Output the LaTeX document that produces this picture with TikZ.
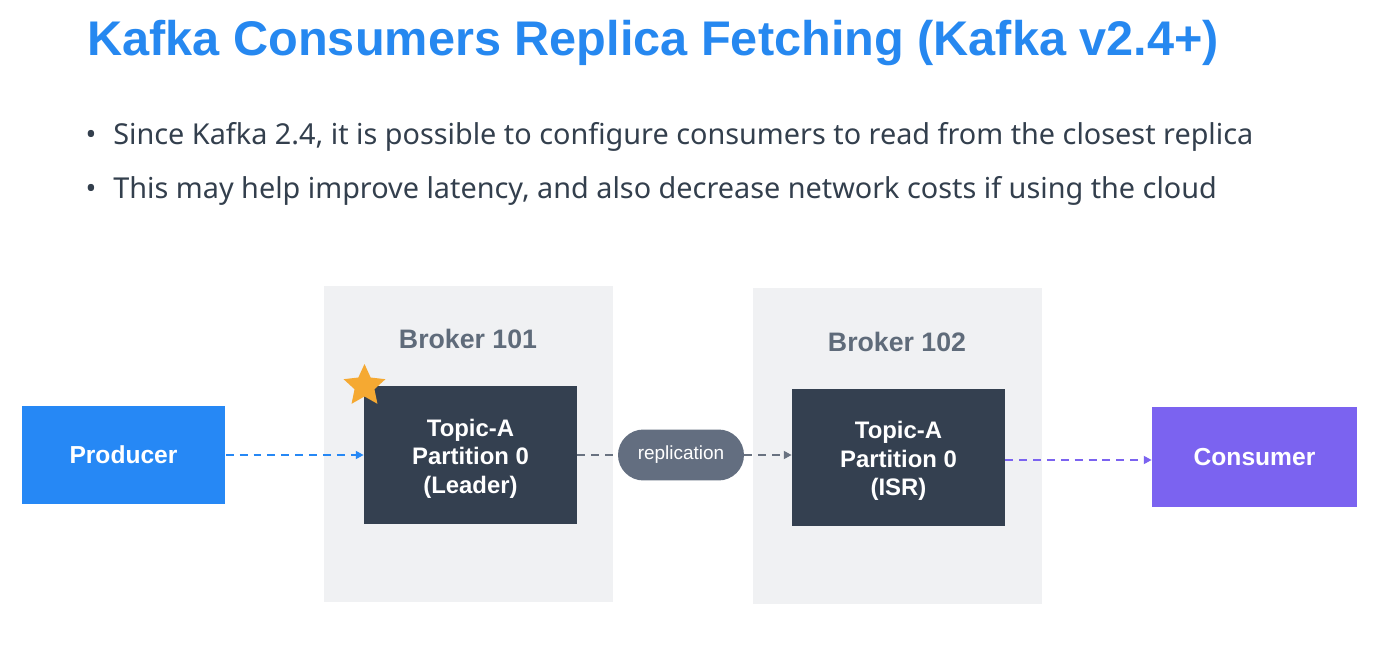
\documentclass[tikz,border=0pt]{standalone}
\usepackage{fontspec}
\setmainfont{Noto Sans}
\newfontfamily\headfont{Liberation Sans}
\usetikzlibrary{shapes.geometric,arrows.meta}

\definecolor{titleblue}{RGB}{38,136,240}
\definecolor{bodytext}{RGB}{51,63,77}
\definecolor{brokerbg}{RGB}{240,241,243}
\definecolor{brokerlbl}{RGB}{95,107,122}
\definecolor{partbg}{RGB}{52,64,80}
\definecolor{starorange}{RGB}{245,169,50}
\definecolor{prodblue}{RGB}{38,136,245}
\definecolor{conspurple}{RGB}{123,99,240}
\definecolor{pillgray}{RGB}{99,110,128}
\definecolor{linkgray}{RGB}{105,114,128}

% partition label, set a little low in its box
\newcommand{\partlbl}[1]{\raisebox{0pt}[\dimexpr\height+4.5pt\relax][\depth]{\begin{tabular}{@{}c@{}}#1\end{tabular}}}

\begin{document}
\begin{tikzpicture}[x=0.02cm, y=-0.02cm,
	every node/.style={font=\headfont\bfseries},
	part/.style={fill=partbg, text=white, minimum width=4.26cm, minimum height=2.76cm, inner sep=0pt, font=\headfont\bfseries\fontsize{13.6}{16.2}\selectfont},
	client/.style={text=white, minimum width=4.08cm, minimum height=1.98cm, font=\headfont\bfseries\fontsize{14}{16}\selectfont},
	link/.style={dashed, dash pattern=on 4.5pt off 3.4pt, line width=1.1pt, -{Triangle[length=4.5pt,width=4.5pt]}}]
	\useasboundingbox (0,0) rectangle (1384,658);
	% heading and bullets
	\node[anchor=base west, text=titleblue, inner sep=0pt, font=\headfont\bfseries\fontsize{27.7}{32}\selectfont] (title) at (87,56) {Kafka Consumers Replica Fetching (Kafka v2.4+)};
	\foreach \y/\txt [count=\i] in {145/{Since Kafka 2.4, it is possible to configure consumers to read from the closest replica}, 199/{This may help improve latency, and also decrease network costs if using the cloud}} {
		\node[anchor=base, text=bodytext, font=\fontsize{16.4}{20}\selectfont] (dot\i) at (91,\y) {•};
		\node[anchor=base west, text=bodytext, inner sep=0pt, font=\fontsize{16.4}{20}\selectfont] (line\i) at (113,\y) {\txt};
	}
	% brokers
	\fill[brokerbg] (324,286) rectangle (613,602);
	\fill[brokerbg] (753,288) rectangle (1042,604);
	\node[anchor=base, text=brokerlbl, font=\headfont\bfseries\fontsize{15.2}{18}\selectfont] (b101) at (468,349) {Broker 101};
	\node[anchor=base, text=brokerlbl, font=\headfont\bfseries\fontsize{15.2}{18}\selectfont] (b102) at (897,352) {Broker 102};
	\node[part] (leader) at (470.5,455) {\partlbl{Topic-A\\Partition 0\\(Leader)}};
	\node[part] (isr) at (898.5,457.5) {\partlbl{Topic-A\\Partition 0\\(ISR)}};
	\node[star, star points=5, star point ratio=2.1, fill=starorange, minimum size=0.88cm, inner sep=0pt] (lead) at (364.5,386) {};
	% clients
	\node[client, fill=prodblue] (prod) at (123.5,455) {Producer};
	\node[client, fill=conspurple, minimum width=4.1cm, minimum height=2cm] (cons) at (1254.5,457) {Consumer};
	\node[fill=pillgray, text=white, minimum width=2.52cm, minimum height=1.02cm, rounded corners=0.51cm, font=\headfont\fontsize{10.8}{12}\selectfont] (repl) at (681,455) {replication};
	% links
	\draw[link, prodblue] (prod) -- (leader);
	\draw[link, linkgray, -] (leader.east |- repl) -- (repl);
	\draw[link, linkgray] (repl) -- (isr.west |- repl);
	\draw[link, conspurple] (isr.east |- 0,460) -- (cons.west |- 0,460);
\end{tikzpicture}
\end{document}
